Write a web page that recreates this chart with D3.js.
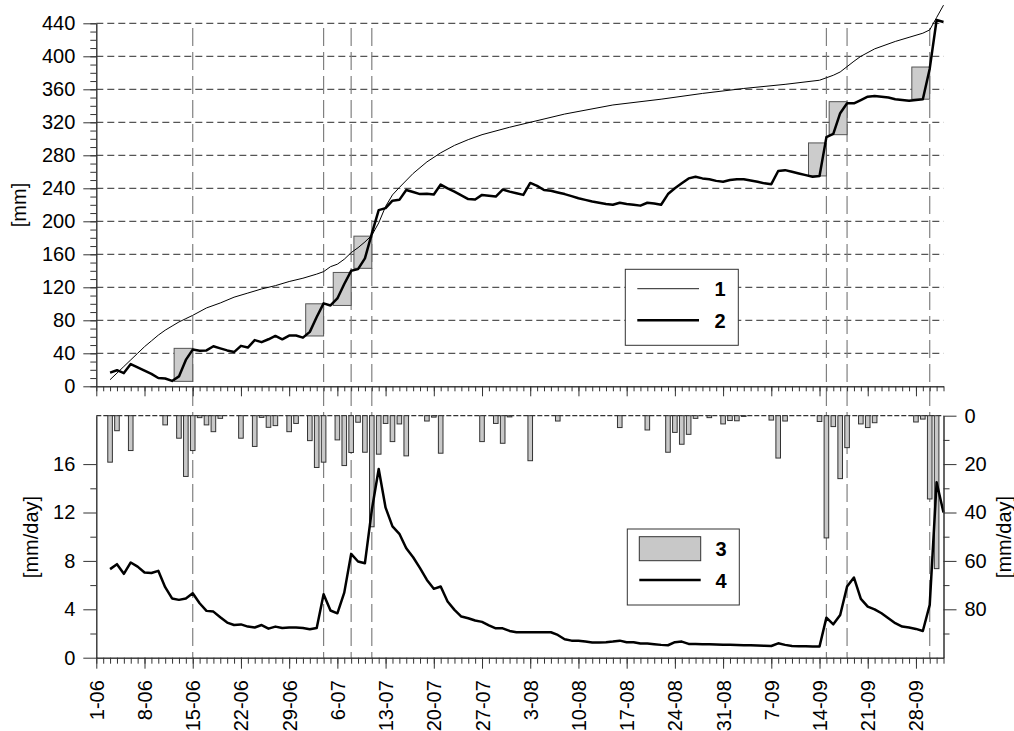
<!DOCTYPE html>
<html><head><meta charset="utf-8">
<script src="https://cdn.jsdelivr.net/npm/d3@7"></script>
<style>body{margin:0;background:#fff} svg text{font-family:"Liberation Sans",Arial,sans-serif}</style>
</head><body><svg id="c" width="1014" height="731"></svg>
<script>
// ---- data ----
const dateLabels = ["1-06","8-06","15-06","22-06","29-06","6-07","13-07","20-07","27-07","3-08","10-08","17-08","24-08","31-08","7-09","14-09","21-09","28-09"];
const eventDays = [14,33,37,40,106,109,121];
const boxStart = [11.3,30.4,34.4,37.4,103.4,106.4,118.4];
const boxEnd   = [14,33,37,40,106,109,121];
const boxLow   = [6,61,98,143,255,305,348];
const boxHigh  = [46,100,138,182,295,345,387];

const s1Days = [2,3,4,5,6,7,8,9,10,11,12,13,14,16,18,20,22,24,26,28,30,32,33,34,35,36,37,38,39,40,41,42,43,44,46,48,50,52,54,56,60,63,68,75,82,88,94,100,105,106,107,108,110,111,113,116,118,120,121,122,123];
const s1Vals = [8,16,24,32,40,48,55,62,68,73,78,82,86,95,101,108,113,118,122,127,131,136,139,145,148,154,162,168,175,183,198,218,232,241,258,272,283,292,299,305,314,320,330,341,348,355,361,366,371,374,377,381,394,400,409,418,423,428,432,447,462];

const s2Days = d3.range(2,124);
const s2Vals = [16.5,19.5,16,27,23,19,15,10,9.5,6.5,12,32,44.5,43,43.5,48.5,46,43.5,41.5,49,47,56,53.5,57,61,57,61.5,61.5,59,66,84,100.5,98,106.5,124,140,142,155,185,213.5,216,225,226,238,235.5,233,233.5,232.5,244.5,240,236,231.5,227,226.5,232,231,230,238.5,236,234,232,246.5,243,238,237,235,233,230.5,228,226,224,222.5,221,220,222.5,221,220,219,222.5,221.5,220,233,240,246,252,254,252,251,249,248,250,251,251,249.5,248,246,245,261,262,260,258,256,254,255,302,306,331,343,343,347,351,352,351,350,348,347,346,347,348,385,444,441.5];

const barDays = [2,3,5,10,12,13,14,15,16,17,18,21,23,24,25,26,28,29,31,32,33,35,36,37,38,39,40,41,42,43,44,45,48,49,50,56,58,59,60,63,67,76,80,83,84,85,86,87,89,91,92,93,94,98,99,100,105,106,107,108,109,111,112,113,119,120,121,122];
const barVals = [19.2,6.2,14.4,3.8,9.3,25.1,14.4,0.8,3.8,6.6,1.1,9.3,12.7,0.7,4.8,4.1,6.6,3.2,10.3,21.4,19.2,10,20.6,15.2,2.7,15.1,45.9,15.9,3.2,10.7,3.4,16.6,2.2,0.6,15.5,10.7,3.2,11.4,0.5,18.6,2.2,4.9,5.9,15.1,6.9,11.8,7.7,1.1,0.8,3.4,2.0,2.1,0.3,1.8,17.5,2.2,2.4,50.5,4.5,26,13.2,3.4,4.9,2.9,2.6,1.4,34.4,63.2];

const s4Days = d3.range(2,124);
const s4Vals = [7.32,7.73,6.93,7.87,7.53,7.04,7.0,7.18,5.83,4.9,4.78,4.9,5.33,4.5,3.87,3.81,3.34,2.9,2.7,2.75,2.57,2.5,2.7,2.4,2.57,2.45,2.5,2.5,2.45,2.35,2.45,5.25,3.9,3.67,5.38,8.58,7.95,7.81,12.2,15.6,12.4,10.85,10.24,9.05,8.3,7.4,6.43,5.69,5.88,4.64,3.95,3.4,3.26,3.07,2.96,2.68,2.43,2.43,2.21,2.1,2.1,2.1,2.1,2.1,2.1,1.88,1.52,1.41,1.41,1.33,1.25,1.25,1.28,1.33,1.41,1.28,1.28,1.17,1.17,1.12,1.06,1.03,1.28,1.33,1.14,1.14,1.12,1.12,1.1,1.08,1.06,1.04,1.03,1.02,1.0,0.98,0.97,1.19,1.06,0.97,0.95,0.94,0.93,0.92,3.31,2.76,3.53,5.88,6.62,4.86,4.22,4.0,3.67,3.26,2.85,2.57,2.49,2.38,2.21,4.36,14.5,12.0];

const topMajor = [0,40,80,120,160,200,240,280,320,360,400,440];
const botLeftMajor = [0,4,8,12,16];
const botRightMajor = [0,20,40,60,80];

// ---- scales ----
const svg = d3.select("#c");
const x = d3.scaleLinear().domain([0,123]).range([96.3,943.5]);
const yT = d3.scaleLinear().domain([0,440]).range([386.3,23.3]);
const yL = d3.scaleLinear().domain([0,20]).range([657.7,415.7]);
const yR = d3.scaleLinear().domain([0,100]).range([415.7,657.7]);
const AX = "#333";
const FS = 20;

// top gridlines
svg.append("g").selectAll("line").data(topMajor.filter(v=>v>0)).join("line")
  .attr("x1",x(0)).attr("x2",x(123)).attr("y1",d=>yT(d)).attr("y2",d=>yT(d))
  .attr("stroke","#555").attr("stroke-width",1.2).attr("stroke-dasharray","7,4");

// vertical event lines
svg.append("g").selectAll("line").data(eventDays).join("line")
  .attr("x1",d=>x(d)).attr("x2",d=>x(d)).attr("y1",28).attr("y2",657.7)
  .attr("stroke","#808080").attr("stroke-width",1.2).attr("stroke-dasharray","18,6");

// boxes
svg.append("g").selectAll("rect").data(d3.range(boxStart.length)).join("rect")
  .attr("x",i=>x(boxStart[i])).attr("width",i=>x(boxEnd[i])-x(boxStart[i]))
  .attr("y",i=>yT(boxHigh[i])).attr("height",i=>yT(boxLow[i])-yT(boxHigh[i]))
  .attr("fill","#cccccc").attr("stroke","#555").attr("stroke-width",1);

// top legend
svg.append("rect").attr("x",625.3).attr("y",269.3).attr("width",113).attr("height",76)
  .attr("fill","#fff").attr("stroke",AX).attr("stroke-width",1);
svg.append("line").attr("x1",637.3).attr("x2",699).attr("y1",288.7).attr("y2",288.7).attr("stroke","#222").attr("stroke-width",1);
svg.append("line").attr("x1",637.3).attr("x2",699).attr("y1",320.3).attr("y2",320.3).attr("stroke","#000").attr("stroke-width",2.5);
svg.append("text").attr("x",720).attr("y",289).attr("text-anchor","middle").attr("dominant-baseline","central").attr("font-size",FS).attr("font-weight","bold").text("1");
svg.append("text").attr("x",720).attr("y",321).attr("text-anchor","middle").attr("dominant-baseline","central").attr("font-size",FS).attr("font-weight","bold").text("2");

// top lines
const lineT = d3.line().x(d=>x(d[0])).y(d=>yT(d[1]));
svg.append("path").datum(s1Days.map((d,i)=>[d,s1Vals[i]])).attr("d",lineT)
  .attr("fill","none").attr("stroke","#000").attr("stroke-width",1);
svg.append("path").datum(s2Days.map((d,i)=>[d,s2Vals[i]])).attr("d",lineT)
  .attr("fill","none").attr("stroke","#000").attr("stroke-width",2.5).attr("stroke-linejoin","round");

// bottom: top dashed zero line
svg.append("line").attr("x1",x(0)).attr("x2",x(123)).attr("y1",yR(0)).attr("y2",yR(0))
  .attr("stroke","#333").attr("stroke-width",1.2).attr("stroke-dasharray","5,2");

// bars
svg.append("g").selectAll("rect").data(d3.range(barDays.length)).join("rect")
  .attr("x",i=>x(barDays[i])-2.3).attr("width",4.6)
  .attr("y",yR(0)).attr("height",i=>yR(barVals[i])-yR(0))
  .attr("fill","#c8c8c8").attr("stroke","#333").attr("stroke-width",1);

// line 4
const lineB = d3.line().x(d=>x(d[0])).y(d=>yL(d[1]));
svg.append("path").datum(s4Days.map((d,i)=>[d,s4Vals[i]])).attr("d",lineB)
  .attr("fill","none").attr("stroke","#000").attr("stroke-width",2.5).attr("stroke-linejoin","round");

// bottom legend
svg.append("rect").attr("x",627.3).attr("y",529).attr("width",112).attr("height",76)
  .attr("fill","#fff").attr("stroke",AX).attr("stroke-width",1);
svg.append("rect").attr("x",639.3).attr("y",536.7).attr("width",61.4).attr("height",24)
  .attr("fill","#c8c8c8").attr("stroke","#333").attr("stroke-width",1);
svg.append("line").attr("x1",639.3).attr("x2",700.7).attr("y1",580).attr("y2",580).attr("stroke","#000").attr("stroke-width",2.5);
svg.append("text").attr("x",721).attr("y",549).attr("text-anchor","middle").attr("dominant-baseline","central").attr("font-size",FS).attr("font-weight","bold").text("3");
svg.append("text").attr("x",721).attr("y",581).attr("text-anchor","middle").attr("dominant-baseline","central").attr("font-size",FS).attr("font-weight","bold").text("4");

// ---- axes ----
function styleAxis(g){
  g.attr("font-size",FS).attr("font-family","Liberation Sans, Arial, sans-serif");
  g.selectAll("path,line").attr("stroke",AX).attr("stroke-width",1);
  g.selectAll("text").attr("fill","#000");
}
const weekly = dateLabels.map((d,i)=>i*7);
const daily = d3.range(0,124);

// top y axis
svg.append("g").attr("transform",`translate(${x(0)},0)`)
  .call(d3.axisLeft(yT).tickValues(d3.range(0,441,10)).tickSize(6).tickSizeOuter(0).tickFormat("")).call(styleAxis);
svg.append("g").attr("transform",`translate(${x(0)},0)`)
  .call(d3.axisLeft(yT).tickValues(topMajor).tickSize(13).tickSizeOuter(0).tickPadding(8).tickFormat(d3.format("d"))).call(styleAxis);
// top x axis
svg.append("g").attr("transform",`translate(0,${yT(0)})`)
  .call(d3.axisBottom(x).tickValues(daily).tickSize(5).tickSizeOuter(0).tickFormat("")).call(styleAxis);
svg.append("g").attr("transform",`translate(0,${yT(0)})`)
  .call(d3.axisBottom(x).tickValues(weekly).tickSize(10).tickSizeOuter(0).tickFormat("")).call(styleAxis);

// bottom left axis
svg.append("g").attr("transform",`translate(${x(0)},0)`)
  .call(d3.axisLeft(yL).tickValues([2,6,10,14]).tickSize(6).tickSizeOuter(0).tickFormat("")).call(styleAxis);
svg.append("g").attr("transform",`translate(${x(0)},0)`)
  .call(d3.axisLeft(yL).tickValues(botLeftMajor).tickSize(13).tickSizeOuter(0).tickPadding(8).tickFormat(d3.format("d"))).call(styleAxis);
// bottom right axis
svg.append("g").attr("transform",`translate(${x(123)},0)`)
  .call(d3.axisRight(yR).tickValues([10,30,50,70,90]).tickSize(6).tickSizeOuter(0).tickFormat("")).call(styleAxis);
svg.append("g").attr("transform",`translate(${x(123)},0)`)
  .call(d3.axisRight(yR).tickValues(botRightMajor).tickSize(13).tickSizeOuter(0).tickPadding(8).tickFormat(d3.format("d"))).call(styleAxis);
// bottom x axis
svg.append("g").attr("transform",`translate(0,${yL(0)})`)
  .call(d3.axisBottom(x).tickValues(daily).tickSize(6).tickSizeOuter(0).tickFormat("")).call(styleAxis);
const bx = svg.append("g").attr("transform",`translate(0,${yL(0)})`)
  .call(d3.axisBottom(x).tickValues(weekly).tickSize(11).tickSizeOuter(0).tickFormat((d,i)=>dateLabels[i])).call(styleAxis);
bx.selectAll("text").attr("x",0).attr("y",0).attr("dy",null)
  .attr("transform","translate(0,22.5) rotate(-90)")
  .attr("text-anchor","end").attr("dominant-baseline","central");

// axis titles
svg.append("text").attr("transform","translate(19,205) rotate(-90)").attr("text-anchor","middle").attr("dominant-baseline","central").attr("font-size",FS).text("[mm]");
svg.append("text").attr("transform","translate(31,537) rotate(-90)").attr("text-anchor","middle").attr("dominant-baseline","central").attr("font-size",FS).text("[mm/day]");
svg.append("text").attr("transform","translate(1004,537) rotate(-90)").attr("text-anchor","middle").attr("dominant-baseline","central").attr("font-size",FS).text("[mm/day]");
</script>
</body></html>
